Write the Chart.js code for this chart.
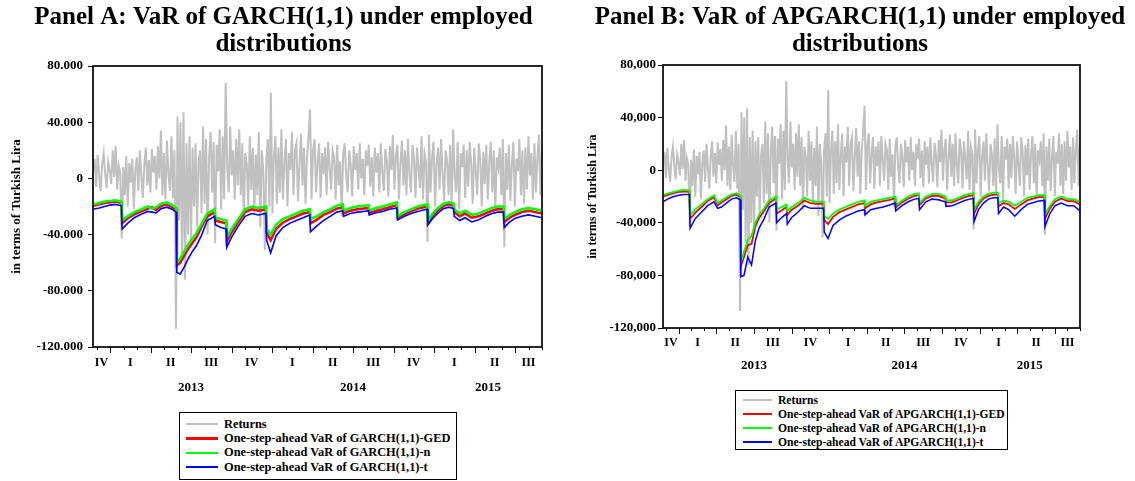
<!DOCTYPE html>
<html>
<head>
<meta charset="utf-8">
<script src="https://cdn.jsdelivr.net/npm/chart.js@4.4.1/dist/chart.umd.min.js"></script>
<style>
  body { margin: 0; background: #fff; width: 1135px; height: 481px; position: relative; overflow: hidden; }
  .wrap { position: absolute; top: 0; }
  .legend { position: absolute; border: 1px solid #000; box-sizing: border-box; background: #fff;
            font-family: 'Liberation Serif', 'Times New Roman', serif; font-weight: bold; color: #000; }
  .legend .row { display: flex; align-items: center; white-space: nowrap; }
  .legend .swatch { flex: none; }
</style>
</head>
<body>
<div class="wrap" style="left:0px;"><canvas id="chartA" width="567" height="400"></canvas></div>
<div class="wrap" style="left:585px;"><canvas id="chartB" width="550" height="378"></canvas></div>
<div id="legendA" class="legend" style="left:179px; top:412px; width:278px; height:68px; font-size:12.4px; padding-top:4px;"></div>
<div id="legendB" class="legend" style="left:735px; top:390px; width:273px; height:60px; font-size:11.6px; padding-top:2px;"></div>

<script>
// ─────────────────────────────────────────────────────────────────────────────
// DATA  (values in thousands of Turkish Lira, x in months from 1 Oct 2012)
// ─────────────────────────────────────────────────────────────────────────────

// daily returns, same series in both panels (first ~mid Nov 2012, last ~end Aug 2015)
const returnsStart = 1.75;
const returnsEnd = 35.0;
const returns = [
  5, 14, -6, 17, 2, -9, 10, 18, 3,
  -7, 12, 6, -4, 20, 1, 23, -8, 9,
  4, -43, 8, -12, 16, -20, 11, -3, 14,
  -22, 6, 15, -9, 20, 2, -14, 10, 22,
  -5, 13, -10, 21, 4, 16, -8, 23, 0,
  34, -12, 18, -15, 27, 3, -9, 30, -14,
  20, -107, 44, -30, 40, -55, 47, -72, 25,
  -40, 30, -46, 22, -20, 25, -35, 12, 20,
  -25, 37, -18, 28, -40, 15, 33, -10, 26,
  -46, 24, 5, 35, -22, 30, -15, 68, 8,
  -10, 37, 2, 20, -15, 28, -5, 35, -12,
  25, -30, 18, 10, -20, 30, -8, 22, -25,
  17, -12, 33, -35, 20, 5, -51, 14, 28,
  -20, 61, -25, 15, 30, -18, 22, -10, 35,
  -15, 12, 28, -20, 18, 6, 33, -12, 20,
  25, -16, 10, 32, -5, 22, -18, 15, 30,
  49, -15, 20, 28, -10, 12, 25, -14, 18,
  3, 22, -12, 26, 8, -8, 20, 15, -15,
  24, -5, 12, -27, 18, 25, 2, -10, 20,
  10, -13, 23, 6, 18, -8, 25, 0, 14,
  -12, 20, 9, 24, -6, 15, -13, 22, 4,
  18, -10, 25, 5, -9, 21, 12, -13, 23,
  6, 31, -8, 16, 24, -15, 10, 27, -5,
  20, -12, 28, 3, -10, 24, 15, -14, 22,
  8, -7, 30, -15, 18, 12, -45, 31, -10,
  15, 26, -20, 10, 22, -8, 28, 4, -16,
  20, 12, -12, 24, -18, 35, 2, -10, 26,
  -22, 18, 8, 24, -14, 20, -6, 26, 10,
  -18, 22, 5, -12, 25, 14, -20, 19, -4,
  24, -15, 12, 26, -10, 20, -22, 15, 8,
  22, -12, 28, -49, 18, -8, 24, -16, 10,
  26, -20, 14, 5, 28, -12, 20, -18, 22,
  -8, 30, 2, 18, -15, 25, -10, 16, 31,
  -12, 20,
];

// sampling dates (months) for the VaR lines
const varMonths = [
  1.75, 2.2, 2.6, 3.0, 3.4, 3.85, 3.9, 4.3,
  4.8, 5.3, 5.8, 6.1, 6.4, 6.8, 7.2, 7.6,
  7.9, 7.95, 8.2, 8.5, 8.8, 9.1, 9.4, 9.8,
  10.2, 10.75, 10.8, 11.2, 11.6, 11.65, 12.0, 12.5,
  13.0, 13.5, 14.0, 14.55, 14.6, 14.9, 15.3, 15.8,
  16.3, 16.8, 17.3, 17.8, 17.85, 18.3, 18.8, 19.3,
  19.8, 20.25, 20.3, 20.8, 21.3, 21.8, 22.15, 22.2,
  22.7, 23.2, 23.7, 24.25, 24.3, 24.8, 25.3, 25.8,
  26.2, 26.5, 26.55, 26.9, 27.3, 27.7, 28.1, 28.45,
  28.5, 28.9, 29.3, 29.8, 30.3, 30.8, 31.3, 31.7,
  32.15, 32.2, 32.6, 33.0, 33.5, 34.0, 34.5, 35.0,
];

// Panel A: GARCH(1,1)
const garchGED = [
  -19.5, -18.5, -17.5, -17, -16.5, -17.5, -32, -28.5,
  -25.5, -23.5, -21.5, -20.5, -22.5, -19.5, -18.5, -20.5,
  -22.5, -62, -60, -55, -50, -46, -42, -34,
  -27, -24, -30, -31, -32, -45, -38.5, -31,
  -24, -22, -23, -22, -39, -44, -36, -31.5,
  -29, -27, -25, -24, -32, -29.5, -26, -24,
  -21.5, -20.5, -25, -23, -22, -21.5, -21, -24.5,
  -23, -22, -20.5, -19, -28, -25.5, -23.5, -21.5,
  -20.5, -20, -31.5, -26.5, -22.5, -19.5, -18.5, -19.5,
  -24, -27, -25, -28, -27, -25, -23, -22,
  -22, -31, -28, -26, -24, -23, -24, -25,
];
const garchN = [
  -18.5, -17.5, -16.5, -16, -15.5, -16.5, -30, -27,
  -24, -22, -20, -21.5, -20.5, -18, -17, -19,
  -21, -60, -57, -52, -47, -43, -39, -32,
  -25, -22, -28, -29, -30, -42, -36, -29,
  -22, -20, -21, -20, -36, -40, -33, -29,
  -27, -25, -23, -22, -29, -27, -24, -22,
  -19.5, -18.5, -23, -21, -20, -19.5, -19, -23,
  -21, -20, -18.5, -17, -27, -24, -22, -20,
  -19, -18.5, -30, -25, -21, -18, -17, -18,
  -22, -25, -23, -26, -25, -23, -21, -20,
  -20, -29, -26, -24, -22, -21, -22, -23,
];
const garchT = [
  -22, -21, -20, -19, -18.5, -19.5, -36, -32,
  -28, -25.5, -23.5, -24, -24.5, -21.5, -20.5, -22,
  -24, -67, -68, -63, -57, -52, -48, -40,
  -30, -27, -33, -35, -36, -49, -42, -34,
  -27, -25, -26, -25, -44, -53, -41, -35,
  -32, -30, -28, -26, -38, -34, -30, -27,
  -24, -23, -27, -25, -24, -23.5, -23, -26,
  -24.5, -23.5, -22, -21, -29.5, -27, -25, -23.5,
  -22.5, -22, -33, -28.5, -24.5, -21.5, -20.5, -21.5,
  -27, -30, -28, -31, -29.5, -27, -25, -24,
  -24, -35, -31, -28.5, -27, -26, -27, -28,
];

// Panel B: APGARCH(1,1)
const apgarchGED = [
  -20, -18.5, -17.5, -16.5, -16, -16.5, -37, -32.5,
  -28, -23.5, -20.5, -26.5, -24.5, -22, -19.5, -18.5,
  -20.5, -73, -66, -57, -56, -43, -36.5, -31,
  -25, -21.5, -33, -30.5, -28, -34, -30, -27,
  -23, -25, -25.5, -25.5, -38, -41, -35.5, -32,
  -30, -28, -26, -25, -29, -26, -24.5, -23.5,
  -22.5, -21.5, -28.5, -24.5, -21.5, -19.5, -19, -26.5,
  -21.5, -19.5, -19.5, -21.5, -24.5, -24.5, -22.5, -20.5,
  -19.5, -19, -33, -26, -21.5, -19.5, -18.5, -18.5,
  -27.5, -25, -26, -29.5, -26, -23, -21.5, -20.5,
  -20.5, -37, -29, -24, -21.5, -23.5, -23.5, -26,
];
const apgarchN = [
  -18.8, -17.5, -16.5, -15.5, -15, -15.5, -34, -30,
  -26, -22, -19, -25, -23, -20.5, -18.5, -17.5,
  -19, -70, -62, -53, -50, -40, -34, -29,
  -23, -20, -30, -28, -26, -31, -28, -25,
  -21, -23, -24, -24, -35, -37, -33, -30,
  -28, -26, -24, -23, -27, -24, -23, -22,
  -21, -20, -27, -23, -20, -18, -17.5, -25,
  -20, -18, -18, -20, -23, -23, -21, -19,
  -18, -17.5, -30, -24, -20, -18, -17, -17,
  -25, -23, -24, -27, -24, -21, -20, -19,
  -19, -34, -27, -22, -20, -22, -22, -24,
];
const apgarchT = [
  -24, -21.5, -20, -19, -18.5, -18.5, -44, -37,
  -32, -27, -24, -29, -28, -25, -22, -21,
  -22.5, -81, -80, -66, -72, -54, -44, -37,
  -28, -25, -40, -36, -33, -41, -36, -32,
  -27, -29, -29, -29, -47, -52, -42, -38,
  -35, -33, -31, -30, -34, -30, -29, -28,
  -26.5, -25, -31, -27, -24, -22, -21.5, -30,
  -24, -22, -22.5, -24, -27.5, -27, -25, -23,
  -22, -21.5, -39, -30, -25, -22, -21, -21,
  -33, -28, -30, -35, -30, -26, -24.5, -23.5,
  -23, -43, -33, -27, -25, -27, -27, -31,
];

// axis labels
const quarterNames = ['IV', 'I', 'II', 'III'];   // quarter starting at month 0, 3, 6, 9 ...
const yearLabels = ['2013', '2014', '2015'];     // years starting at month 3, 15, 27
const xMin = 1.74;
const xMax = 35.0;

// ─────────────────────────────────────────────────────────────────────────────
// Chart setup
// ─────────────────────────────────────────────────────────────────────────────

const SERIF = "'Liberation Serif', 'Times New Roman', serif";

function toPoints(xs, ys) {
  return ys.map((y, i) => ({ x: xs[i], y }));
}

const returnsStep = (returnsEnd - returnsStart) / (returns.length - 1);
const returnPoints = returns.map((y, i) => ({ x: returnsStart + i * returnsStep, y }));

// quarter / month ticks, quarter and year labels under the x axis
const periodAxis = {
  id: 'periodAxis',
  afterDraw(chart, args, opts) {
    const xs = chart.scales.x;
    const ctx = chart.ctx;
    const base = chart.chartArea.bottom;
    ctx.save();
    ctx.strokeStyle = '#000';
    ctx.lineWidth = 1;
    for (let m = Math.ceil(xs.min); m <= xs.max; m++) {
      const px = Math.round(xs.getPixelForValue(m)) + 0.5;
      const len = m % 3 === 0 ? opts.major : opts.minor;
      ctx.beginPath();
      ctx.moveTo(px, base);
      ctx.lineTo(px, base + len);
      ctx.stroke();
    }
    ctx.fillStyle = '#000';
    ctx.textAlign = 'center';
    ctx.textBaseline = 'middle';
    ctx.font = `bold ${opts.qSize}px ${SERIF}`;
    for (let q = Math.floor(xs.min / 3) * 3; q < xs.max; q += 3) {
      const a = Math.max(q, xs.min), b = Math.min(q + 3, xs.max);
      const px = xs.getPixelForValue((a + b) / 2);
      ctx.fillText(quarterNames[(q / 3) % 4], px, base + opts.qOffset);
    }
    ctx.font = `bold ${opts.ySize}px ${SERIF}`;
    yearLabels.forEach((label, i) => {
      const a = Math.max(3 + 12 * i, xs.min), b = Math.min(15 + 12 * i, xs.max);
      ctx.fillText(label, xs.getPixelForValue((a + b) / 2), base + opts.yOffset);
    });
    ctx.restore();
  },
};

// box round the plot area
const frame = {
  id: 'frame',
  afterDraw(chart) {
    const { left, top, width, height } = chart.chartArea;
    const ctx = chart.ctx;
    ctx.save();
    ctx.strokeStyle = '#111';
    ctx.lineWidth = 1.8;
    ctx.strokeRect(left, top, width, height);
    ctx.restore();
  },
};

// centre the title over the whole canvas, not only left of the right padding
const wideTitle = {
  id: 'wideTitle',
  afterLayout(chart) {
    const tb = chart.titleBlock;
    if (!tb) return;
    tb.left = 0;
    tb.right = chart.width;
    tb.width = chart.width;
  },
};

function makeChart(id, p) {
  const datasets = [
    { label: 'Returns', data: returnPoints, borderColor: '#c0c0c0', borderWidth: 2, order: 4, legendWidth: 2 },
    { label: p.names[0], data: toPoints(varMonths, p.ged), borderColor: '#ff0000', borderWidth: p.w[0], order: 2, legendWidth: p.lw[0] },
    { label: p.names[1], data: toPoints(varMonths, p.n), borderColor: '#00ff00', borderWidth: p.w[1], order: 1, legendWidth: p.lw[1] },
    { label: p.names[2], data: toPoints(varMonths, p.t), borderColor: '#0000ff', borderWidth: p.w[2], order: 0, legendWidth: p.lw[2] },
  ].map(d => ({ ...d, pointRadius: 0, tension: 0, fill: false }));

  const chart = new Chart(document.getElementById(id), {
    type: 'line',
    data: { datasets },
    plugins: [periodAxis, frame, wideTitle],
    options: {
      responsive: false,
      animation: false,
      layout: { padding: { left: 0, right: p.rightPad, top: 0, bottom: 0 } },
      plugins: {
        legend: { display: false },
        tooltip: { enabled: false },
        title: {
          display: true,
          text: p.title,
          color: '#000',
          font: { family: SERIF, size: p.titleSize, weight: 'bold', lineHeight: 1.08 },
          padding: { top: p.titleTop, bottom: p.titleBottom },
        },
        periodAxis: p.axis,
      },
      scales: {
        x: {
          type: 'linear',
          min: xMin,
          max: xMax,
          ticks: { display: false },
          grid: { display: false },
          border: { display: false },
          afterFit: s => { s.height = p.xHeight; },
        },
        y: {
          min: -120,
          max: 80,
          ticks: {
            stepSize: 40,
            color: '#000',
            padding: p.yTickPad,
            font: { family: SERIF, size: 13, weight: 'bold' },
            callback: v => (v === 0 ? '0' : v + p.sep + '000'),
          },
          grid: { drawOnChartArea: false, tickLength: 5, color: '#000', tickColor: '#000' },
          border: { display: false },
          title: {
            display: true,
            text: 'in terms of Turkish Lira',
            color: '#000',
            font: { family: SERIF, size: p.yTitleSize, weight: 'bold' },
            padding: { top: p.yTitlePad, bottom: 0 },
          },
          afterFit: s => { s.width = p.yWidth; },
        },
      },
    },
  });

  const legend = document.getElementById(p.legendId);
  datasets.forEach(d => {
    const row = document.createElement('div');
    row.className = 'row';
    row.style.height = p.rowH + 'px';
    const sw = document.createElement('div');
    sw.className = 'swatch';
    sw.style.cssText = `width:${p.swW}px;height:${d.legendWidth}px;background:${d.borderColor};margin-left:${p.swL}px;margin-right:${p.swR}px;`;
    const txt = document.createElement('span');
    txt.textContent = d.label;
    row.appendChild(sw);
    row.appendChild(txt);
    legend.appendChild(row);
  });
  return chart;
}

makeChart('chartA', {
  title: ['Panel A: VaR of GARCH(1,1) under employed', 'distributions'],
  names: ['One-step-ahead VaR of GARCH(1,1)-GED', 'One-step-ahead VaR of GARCH(1,1)-n', 'One-step-ahead VaR of GARCH(1,1)-t'],
  ged: garchGED, n: garchN, t: garchT,
  w: [2.5, 2.5, 1.6], lw: [3, 2, 2],
  sep: '.',
  titleSize: 25, titleTop: 4, titleBottom: 8,
  rightPad: 25, yWidth: 93, yTickPad: 5, yTitleSize: 13, yTitlePad: 9,
  xHeight: 53,
  axis: { major: 6, minor: 3, qSize: 12, qOffset: 16, ySize: 13, yOffset: 41 },
  legendId: 'legendA', rowH: 14.3, swW: 32, swL: 6, swR: 6,
});

makeChart('chartB', {
  title: ['Panel B: VaR of APGARCH(1,1) under employed', 'distributions'],
  names: ['One-step-ahead VaR of APGARCH(1,1)-GED', 'One-step-ahead VaR of APGARCH(1,1)-n', 'One-step-ahead VaR of APGARCH(1,1)-t'],
  ged: apgarchGED, n: apgarchN, t: apgarchT,
  w: [1.8, 1.8, 1.5], lw: [2, 2, 2],
  sep: ',',
  titleSize: 25, titleTop: 4, titleBottom: 7,
  rightPad: 55, yWidth: 78, yTickPad: 2, yTitleSize: 12, yTitlePad: 1,
  xHeight: 50,
  axis: { major: 6, minor: 3, qSize: 12, qOffset: 15, ySize: 13, yOffset: 38 },
  legendId: 'legendB', rowH: 14, swW: 29, swL: 7, swR: 6,
});
</script>
</body>
</html>
